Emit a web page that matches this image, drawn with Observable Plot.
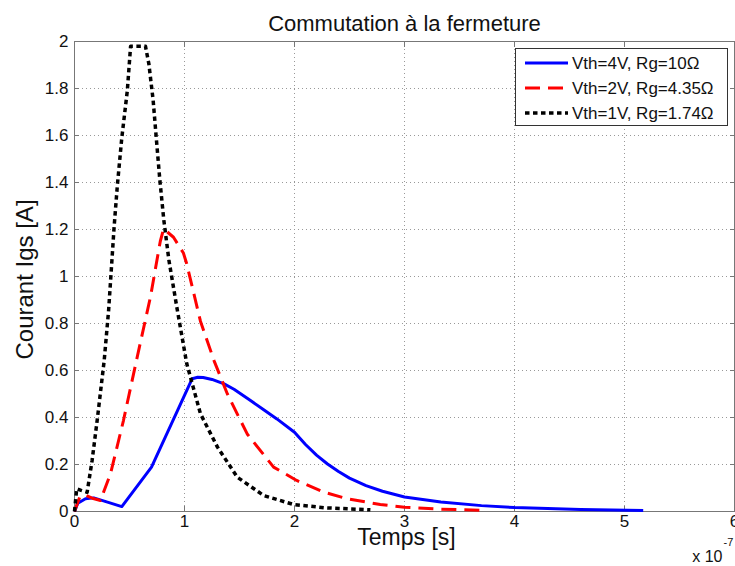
<!DOCTYPE html>
<html>
<head>
<meta charset="utf-8">
<script src="https://cdn.jsdelivr.net/npm/d3@7"></script>
<script src="https://cdn.jsdelivr.net/npm/@observablehq/plot@0.6"></script>
<style>
  html, body { margin: 0; padding: 0; background: #fff; }
  #chart { width: 735px; height: 566px; }
</style>
</head>
<body>
<div id="chart"></div>
<script>
// Time values in units of 1e-7 s, current in A
const blueX = [0, 0.03, 0.1, 0.175, 0.3, 0.43, 0.7, 1.07, 1.12, 1.17, 1.25, 1.36, 1.45, 1.6, 1.72, 1.84, 2.0, 2.1, 2.2, 2.3, 2.4, 2.5, 2.65, 2.8, 3.0, 3.33, 3.7, 4.0, 4.6, 5.17];
const blueY = [0, 0.035, 0.054, 0.058, 0.04, 0.021, 0.189, 0.565, 0.571, 0.57, 0.562, 0.543, 0.52, 0.472, 0.433, 0.394, 0.337, 0.285, 0.24, 0.202, 0.17, 0.142, 0.11, 0.086, 0.062, 0.04, 0.025, 0.017, 0.008, 0.004];

const redX = [0, 0.05, 0.1, 0.17, 0.236, 0.327, 0.445, 0.57, 0.69, 0.78, 0.81, 0.9, 0.99, 1.02, 1.145, 1.27, 1.39, 1.57, 1.81, 2.02, 2.27, 2.48, 2.78, 3.0, 3.33, 3.74];
const redY = [0, 0.065, 0.07, 0.055, 0.047, 0.16, 0.387, 0.657, 0.912, 1.15, 1.203, 1.167, 1.10, 1.054, 0.81, 0.64, 0.5, 0.33, 0.189, 0.132, 0.082, 0.054, 0.03, 0.018, 0.01, 0.005];

const blackX = [0, 0.02, 0.06, 0.115, 0.16, 0.206, 0.27, 0.31, 0.34, 0.36, 0.39, 0.43, 0.48, 0.51, 0.645, 0.676, 0.715, 0.745, 0.776, 0.812, 0.858, 0.93, 1.02, 1.145, 1.30, 1.48, 1.72, 1.99, 2.27, 2.69];
const blackY = [0, 0.097, 0.09, 0.082, 0.217, 0.387, 0.643, 0.855, 1.068, 1.21, 1.39, 1.59, 1.79, 1.98, 1.98, 1.905, 1.75, 1.58, 1.41, 1.24, 1.07, 0.87, 0.63, 0.416, 0.274, 0.146, 0.068, 0.03, 0.016, 0.007];

const seriesNames = ["Vth=4V, Rg=10Ω", "Vth=2V, Rg=4.35Ω", "Vth=1V, Rg=1.74Ω"];
const seriesColors = ["#0000ff", "#ff0000", "#000000"];
const seriesDash = [null, "15,8", "4.5,3.5"];
const seriesWidth = [3, 3, 3.5];

const xTicks = [0, 1, 2, 3, 4, 5, 6];
const yTicks = [0, 0.2, 0.4, 0.6, 0.8, 1, 1.2, 1.4, 1.6, 1.8, 2];

const titleText = "Commutation à la fermeture";
const xLabel = "Temps [s]";
const yLabel = "Courant Igs [A]";

const toRows = (xs, ys) => xs.map((x, i) => ({x, y: ys[i]}));
const seriesData = [toRows(blueX, blueY), toRows(redX, redY), toRows(blackX, blackY)];

const font = "'Liberation Sans', Arial, Helvetica, sans-serif";
const axisColor = "#777";

const chart = Plot.plot({
  width: 735,
  height: 566,
  marginLeft: 74,
  marginRight: 1,
  marginTop: 41,
  marginBottom: 55,
  style: {fontFamily: font, fontSize: "17px", color: "#111", background: "#fff"},
  x: {domain: [0, 6]},
  y: {domain: [0, 2]},
  marks: [
    Plot.gridX(xTicks, {stroke: "#999", strokeOpacity: 1, strokeDasharray: "1,3"}),
    Plot.gridY(yTicks, {stroke: "#999", strokeOpacity: 1, strokeDasharray: "1,3"}),
    Plot.frame({stroke: axisColor}),
    Plot.axisX(xTicks, {anchor: "bottom", tickSize: -5, tickPadding: 8, tickFormat: d => String(d), label: null, stroke: axisColor, fill: "#111"}),
    Plot.axisX(xTicks, {anchor: "top", tickSize: -5, tickFormat: () => "", label: null, stroke: axisColor}),
    Plot.axisY(yTicks, {anchor: "left", tickSize: -5, tickPadding: 11, tickFormat: d => String(d), label: null, stroke: axisColor, fill: "#111"}),
    Plot.axisY(yTicks, {anchor: "right", tickSize: -5, tickFormat: () => "", label: null, stroke: axisColor}),
    ...seriesData.map((d, i) => Plot.line(d, {
      x: "x", y: "y",
      stroke: seriesColors[i],
      strokeWidth: seriesWidth[i],
      strokeDasharray: seriesDash[i],
      strokeLinecap: "butt",
      strokeLinejoin: "round"
    })),
    Plot.text([titleText], {frameAnchor: "top", textAnchor: "middle", lineAnchor: "middle", dy: -18, fontSize: 22, fill: "#111"}),
    Plot.text([xLabel], {frameAnchor: "bottom", textAnchor: "middle", lineAnchor: "middle", dx: 2, dy: 26, fontSize: 23, fill: "#111"}),
    Plot.text([yLabel], {frameAnchor: "left", textAnchor: "middle", lineAnchor: "middle", dx: -49, dy: 3, rotate: -90, fontSize: 24, fill: "#111"}),
    Plot.text(["x 10"], {frameAnchor: "bottom-right", textAnchor: "end", lineAnchor: "middle", dx: -12, dy: 45, fontSize: 16, fill: "#111"}),
    Plot.text(["-7"], {frameAnchor: "bottom-right", textAnchor: "start", lineAnchor: "middle", dx: -11, dy: 31, fontSize: 11, fill: "#111"})
  ]
});

// Legend (drawn inside the plot's SVG)
const svg = d3.select(chart);
const lg = svg.append("g").attr("class", "legend").attr("text-anchor", "start");
lg.append("rect")
  .attr("x", 515.5).attr("y", 48.5).attr("width", 212).attr("height", 77)
  .attr("fill", "#fff").attr("stroke", "#333").attr("stroke-width", 1);
seriesNames.forEach((name, i) => {
  const yy = 63 + i * 25;
  lg.append("line")
    .attr("x1", 525).attr("x2", 568).attr("y1", yy).attr("y2", yy)
    .attr("stroke", seriesColors[i])
    .attr("stroke-width", seriesWidth[i])
    .attr("stroke-dasharray", seriesDash[i]);
  lg.append("text")
    .attr("x", 572).attr("y", yy).attr("dy", "0.35em")
    .attr("text-anchor", "start")
    .attr("font-family", font).attr("font-size", 17).attr("fill", "#111")
    .text(name);
});

document.getElementById("chart").appendChild(chart);
</script>
</body>
</html>
